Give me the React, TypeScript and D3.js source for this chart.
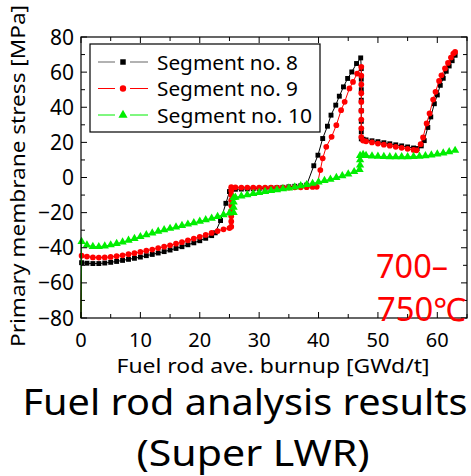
import React from 'react';
import * as d3 from 'd3';

// Segment no. 8 (black, squares)
const seg8Burnup = [0, 0.1, 1, 2, 3, 4, 5, 6, 7, 8, 9, 10, 11, 12, 13, 14, 15, 16, 17, 18, 19, 20, 21, 22, 22.6, 23.5, 24.4, 25.0, 25.3, 26, 27, 28, 29, 30, 31, 32, 33, 34, 35, 36, 37, 38, 39.2, 39.9, 40.7, 41.5, 42.1, 42.9, 43.5, 44.2, 44.9, 45.6, 46.4, 47.1, 47.2, 47.2, 47.2, 47.2, 47.2, 47.2, 47.2, 47.2, 47.5, 48, 49, 50, 51, 52, 53, 54, 55, 56, 56.6, 57.3, 57.8, 58.4, 58.9, 59.5, 60.0, 60.5, 61.0, 61.5, 62.0, 62.5, 63.0];
const seg8Stress = [-80, -48.5, -48.8, -49, -49, -48.7, -48.3, -47.8, -47.2, -46.6, -46, -45.3, -44.5, -43.8, -43, -42.2, -41.3, -40.4, -39.4, -38.3, -37.2, -36, -34.6, -33.1, -31.5, -24.5, -14.7, -8, -6.8, -6.7, -6.6, -6.5, -6.4, -6.3, -6.2, -6.0, -5.8, -5.6, -5.3, -5.0, -4.7, -4.3, 6.7, 12.7, 22.2, 29.2, 35.5, 41.2, 46.3, 51.6, 56.4, 60.1, 64.9, 68.1, 62, 56, 50, 44, 38, 32, 26, 22, 21.8, 21.4, 20.9, 20.4, 19.8, 19.2, 18.6, 18.0, 17.4, 16.8, 16.5, 18, 21, 28.5, 34.5, 42, 47, 52.5, 56.5, 60.5, 63.5, 66.5, 69.6];

// Segment no. 9 (red, circles)
const seg9Burnup = [0, 0.1, 1, 2, 3, 4, 5, 6, 7, 8, 9, 10, 11, 12, 13, 14, 15, 16, 17, 18, 19, 20, 21, 22, 23, 24, 25, 25.3, 25.3, 25.3, 25.3, 25.3, 25.3, 25.3, 25.3, 25.3, 26, 27, 28, 29, 30, 31, 32, 33, 34, 35, 36, 37, 38, 39, 39.7, 40.3, 40.7, 41.3, 42.2, 43.0, 43.8, 44.4, 45.2, 45.8, 46.5, 47.2, 47.2, 47.2, 47.2, 47.2, 47.2, 47.2, 47.2, 47.2, 47.5, 48, 49, 50, 51, 52, 53, 54, 55, 56, 56.5, 57.2, 57.6, 58.2, 58.7, 59.3, 59.7, 60.3, 60.7, 61.3, 61.8, 62.3, 62.7, 63.0];
const seg9Stress = [-80, -44.5, -45, -45.5, -45.6, -45.5, -45.2, -44.8, -44.3, -43.7, -43.1, -42.4, -41.7, -41, -40.2, -39.4, -38.6, -37.7, -36.8, -35.8, -34.8, -33.8, -32.7, -31.6, -30.5, -29.5, -28.8, -28, -25, -22, -19, -16, -13, -10, -7.5, -5.5, -5.6, -5.7, -5.7, -5.8, -5.8, -5.8, -5.8, -5.8, -5.7, -5.7, -5.6, -5.6, -5.5, -5.4, -5.3, 4.2, 10.9, 17.5, 23.2, 29.8, 38.3, 43.1, 50.7, 54.4, 59.2, 63, 58, 53, 48, 43, 38, 33, 28, 23, 21, 20.6, 20, 19.3, 18.7, 18.1, 17.5, 16.9, 16.3, 15.7, 15.5, 19, 22.8, 30.8, 36.5, 44.4, 48.8, 55, 58.2, 62.1, 65.2, 68.3, 70.6, 71.5];

// Segment no. 10 (green, triangles)
const seg10Burnup = [0, 0.1, 1, 2, 3, 4, 5, 6, 7, 8, 9, 10, 11, 12, 13, 14, 15, 16, 17, 18, 19, 20, 21, 22, 23, 24, 25, 25.7, 25.7, 25.7, 25.7, 26, 27, 28, 29, 30, 31, 32, 33, 34, 35, 36, 37, 38, 39, 40, 41, 42, 43, 44, 45, 46, 46.9, 47.0, 47.0, 47.0, 47.5, 48, 49, 50, 51, 52, 53, 54, 55, 56, 57, 58, 59, 60, 61, 62, 63];
const seg10Stress = [-80, -36.5, -38.5, -39.3, -39.4, -39, -38.4, -37.6, -36.8, -35.8, -34.8, -33.7, -32.7, -31.7, -30.7, -29.8, -29, -28.2, -27.4, -26.6, -25.8, -25, -24.1, -23.2, -22.2, -21.2, -20.3, -20, -17, -14, -11.5, -11.3, -10.6, -9.9, -9.2, -8.6, -8, -7.5, -7, -6.5, -6, -5.4, -4.8, -4.1, -3.4, -2.6, -1.8, -1, 0, 1, 2, 3.3, 4.5, 7, 10, 12.5, 13, 12.5, 12.2, 12, 11.9, 11.8, 11.8, 11.8, 11.8, 11.9, 12.1, 12.4, 12.8, 13.3, 13.9, 14.6, 15.4];

const seriesNames = ['Segment no. 8', 'Segment no. 9', 'Segment no. 10'];
const seriesColors = ['#000000', '#ff0000', '#00ee00'];
const seriesBurnup = [seg8Burnup, seg9Burnup, seg10Burnup];
const seriesStress = [seg8Stress, seg9Stress, seg10Stress];
const seriesSymbols = [d3.symbolSquare, d3.symbolCircle, d3.symbolTriangle];
const symbolSizes = [24, 26, 30];

const xMajorTicks = [0, 10, 20, 30, 40, 50, 60];
const yMajorTicks = [-80, -60, -40, -20, 0, 20, 40, 60, 80];

const FONT = '"Noto Sans", "DejaVu Sans", sans-serif';

export default function App() {
  const W = 471, H = 476;
  const left = 81, right = 467, top = 37, bottom = 318;
  const x = d3.scaleLinear().domain([0, 65]).range([left, right]);
  const y = d3.scaleLinear().domain([-80, 80]).range([bottom, top]);
  const xMinor = d3.range(0, 65.01, 5);
  const yMinor = d3.range(-80, 80.01, 10);
  const line = d3.line<[number, number]>().x(d => x(d[0])).y(d => y(d[1]));

  const legendX = 90, legendY = 44, legendW = 230, legendH = 88;
  const legendTextLen = [141, 141, 155];

  return (
    <svg width={W} height={H} style={{ position: 'absolute', left: 0, top: 0, background: '#fff' }} fontFamily={FONT}>
      <rect x={0} y={0} width={W} height={H} fill="#fff" />
      {/* series */}
      {seriesBurnup.map((xs, si) => {
        const pts: [number, number][] = xs.map((v, i) => [v, seriesStress[si][i]]);
        const sym = d3.symbol().type(seriesSymbols[si]).size(symbolSizes[si])();
        return (
          <g key={si}>
            <path d={line(pts) || ''} fill="none" stroke={seriesColors[si]} strokeWidth={1} />
            {pts.slice(1).map((p, i) => (
              <path key={i} d={sym || ''} transform={`translate(${x(p[0])},${y(p[1])})`} fill={seriesColors[si]} />
            ))}
          </g>
        );
      })}
      {/* frame */}
      <rect x={left} y={top} width={right - left} height={bottom - top} fill="none" stroke="#000" strokeWidth={1.2} />
      {/* ticks */}
      {xMinor.map(v => {
        const len = v % 10 === 0 ? 6 : 4;
        return (
          <g key={'x' + v}>
            <line x1={x(v)} x2={x(v)} y1={bottom} y2={bottom - len} stroke="#000" />
            <line x1={x(v)} x2={x(v)} y1={top} y2={top + len} stroke="#000" />
          </g>
        );
      })}
      {yMinor.map(v => {
        const len = v % 20 === 0 ? 6 : 4;
        return (
          <g key={'y' + v}>
            <line x1={left} x2={left + len} y1={y(v)} y2={y(v)} stroke="#000" />
            <line x1={right} x2={right - len} y1={y(v)} y2={y(v)} stroke="#000" />
          </g>
        );
      })}
      {xMajorTicks.map(v => (
        <text key={'xl' + v} x={x(v)} y={347} textAnchor="middle" fontSize={20} fill="#000">{v}</text>
      ))}
      {yMajorTicks.map(v => (
        <text key={'yl' + v} x={74} y={y(v) + 7.5} textAnchor="end" fontSize={21} fill="#000">{v < 0 ? '\u2212' + Math.abs(v) : v}</text>
      ))}
      {/* axis titles */}
      <text x={273} y={373} textAnchor="middle" fontSize={19} fill="#000" textLength={313} lengthAdjust="spacingAndGlyphs">Fuel rod ave. burnup [GWd/t]</text>
      <text transform="translate(25,176) rotate(-90)" textAnchor="middle" fontSize={19} fill="#000" textLength={342} lengthAdjust="spacingAndGlyphs">Primary membrane stress [MPa]</text>
      {/* legend */}
      <rect x={legendX} y={legendY} width={legendW} height={legendH} fill="#fff" stroke="#000" strokeWidth={1.2} />
      {seriesNames.map((name, i) => {
        const cy = 62 + i * 26.5;
        const sym = d3.symbol().type(seriesSymbols[i]).size(symbolSizes[i] + 6)();
        return (
          <g key={'lg' + i}>
            <line x1={98} x2={115} y1={cy} y2={cy} stroke={seriesColors[i]} strokeWidth={1} opacity={i === 0 ? 0.6 : 1} />
            <line x1={130} x2={148} y1={cy} y2={cy} stroke={seriesColors[i]} strokeWidth={1} opacity={i === 0 ? 0.6 : 1} />
            <path d={sym || ''} transform={`translate(123,${cy})`} fill={seriesColors[i]} />
            <text x={157} y={cy + 7.5} fontSize={20} fill="#000" textLength={legendTextLen[i]} lengthAdjust="spacingAndGlyphs">{name}</text>
          </g>
        );
      })}
      {/* annotation */}
      <text x={376} y={278} fontSize={32} fill="#ff0000" textLength={72} lengthAdjust="spacingAndGlyphs">700–</text>
      <text x={377} y={321} fontSize={32} fill="#ff0000" textLength={89} lengthAdjust="spacingAndGlyphs">750℃</text>
      {/* caption */}
      <text x={245} y={415} textAnchor="middle" fontSize={36} fill="#000" textLength={445} lengthAdjust="spacingAndGlyphs">Fuel rod analysis results</text>
      <text x={253} y={466} textAnchor="middle" fontSize={36} fill="#000" textLength={233} lengthAdjust="spacingAndGlyphs">(Super LWR)</text>
    </svg>
  );
}
